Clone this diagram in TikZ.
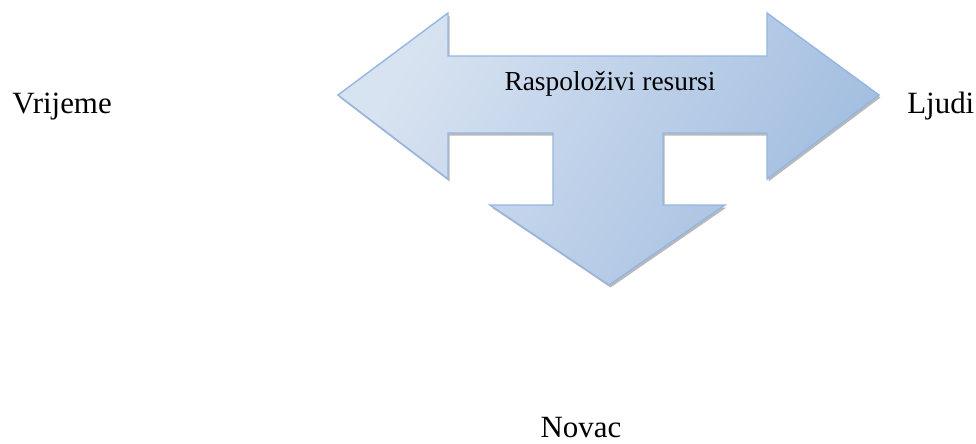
\documentclass[tikz,border=0pt]{standalone}
\usepackage{fontspec}
\setmainfont{Liberation Serif}
\definecolor{arrowlight}{HTML}{D8E3F1}
\definecolor{arrowdark}{HTML}{A2BDE0}
\definecolor{arrowline}{HTML}{95B6E0}
\tikzset{
  label/.style={inner sep=0pt, font=\fontsize{22}{26}\selectfont},
  innerlabel/.style={inner sep=0pt, font=\fontsize{19.5}{23}\selectfont}
}
\begin{document}
\begin{tikzpicture}[x=0.025cm, y=-0.025cm]
    \useasboundingbox (0,0) rectangle (976,443);
    % shadow of the three-way arrow
    \fill[gray!55, shift={(1.5,2.5)}] (338,95) -- (448,13) -- (448,56) -- (767,56) -- (767,13) -- (879,95) -- (767,179) -- (767,133) -- (663,133) -- (663,205) -- (725,205) -- (609,285) -- (490,205) -- (553,205) -- (553,133) -- (448,133) -- (448,179) -- cycle;
    % the arrow itself
    \shade[top color=arrowlight, middle color=arrowlight!80!arrowdark, bottom color=arrowdark, shading angle=60] (338,95) -- (448,13) -- (448,56) -- (767,56) -- (767,13) -- (879,95) -- (767,179) -- (767,133) -- (663,133) -- (663,205) -- (725,205) -- (609,285) -- (490,205) -- (553,205) -- (553,133) -- (448,133) -- (448,179) -- cycle;
    \draw[arrowline, line width=1pt, line join=miter] (338,95) -- (448,13) -- (448,56) -- (767,56) -- (767,13) -- (879,95) -- (767,179) -- (767,133) -- (663,133) -- (663,205) -- (725,205) -- (609,285) -- (490,205) -- (553,205) -- (553,133) -- (448,133) -- (448,179) -- cycle;
    \node[innerlabel, anchor=base] (resursi) at (610,90) {Raspoloživi resursi};
    \node[label, anchor=base west] (vrijeme) at (12,113) {Vrijeme};
    \node[label, anchor=base west] (ljudi) at (907,113) {Ljudi};
    \node[label, anchor=base] (novac) at (581,437) {Novac};
\end{tikzpicture}
\end{document}
